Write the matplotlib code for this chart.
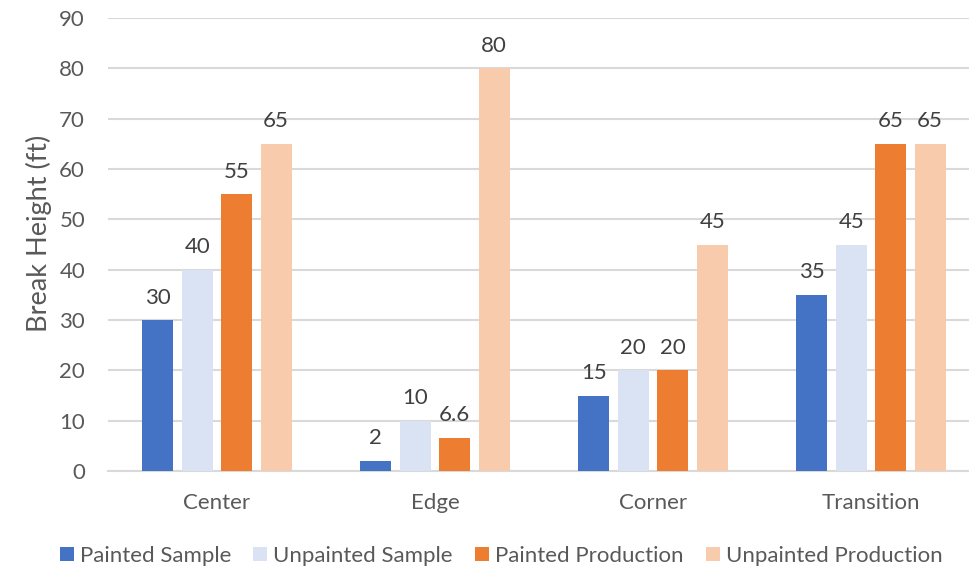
import matplotlib
matplotlib.use("Agg")
import matplotlib.pyplot as plt
import numpy as np

plt.rcParams['font.family'] = ['Lato', 'DejaVu Sans']

categories = ["Center", "Edge", "Corner", "Transition"]
series_names = ["Painted Sample", "Unpainted Sample", "Painted Production", "Unpainted Production"]
painted_sample = [30, 2, 15, 35]
unpainted_sample = [40, 10, 20, 45]
painted_production = [55, 6.6, 20, 65]
unpainted_production = [65, 80, 45, 65]
series_values = [painted_sample, unpainted_sample, painted_production, unpainted_production]
colors = ["#4472C4", "#DAE3F3", "#ED7D31", "#F8CBAD"]

text_color = "#595959"
grid_color = "#D9D9D9"

W, H = 969, 569
fig = plt.figure(figsize=(W / 100, H / 100), dpi=100)
left, right = 108, 980
bottom, top = 471, 18
ax = fig.add_axes([left / W, 1 - bottom / H, (right - left) / W, (bottom - top) / H])

x = np.arange(len(categories))
step = 0.181
width = 0.142
offsets = (np.arange(4) - 1.5) * step

for vals, name, col, off in zip(series_values, series_names, colors, offsets):
    bars = ax.bar(x + off, vals, width, color=col, label=name, zorder=3)
    for b, v in zip(bars, vals):
        lab = f"{v:g}"
        ax.annotate(lab, (b.get_x() + b.get_width() / 2, v), xytext=(0, 9),
                    textcoords="offset points", ha="center", va="bottom",
                    fontsize=16, color="#404040")

ax.set_xlim(-0.5, len(categories) - 0.5)
ax.set_ylim(0, 90)
ax.set_yticks(np.arange(0, 91, 10))
ax.yaxis.grid(True, color=grid_color, linewidth=1.5, zorder=0)
ax.set_axisbelow(True)
for s in ["top", "right", "left"]:
    ax.spines[s].set_visible(False)
ax.spines["bottom"].set_color(grid_color)
ax.spines["bottom"].set_linewidth(1.5)
ax.set_xticks(x)
ax.set_xticklabels(categories)
ax.tick_params(axis="both", length=0, labelsize=16, colors=text_color)
ax.tick_params(axis="y", pad=16.5)
ax.tick_params(axis="x", pad=16)
ax.set_ylabel("Break Height (ft)", fontsize=19.5, color=text_color)
ax.yaxis.set_label_coords(-0.064, 0.525)

fig.legend(loc="center", bbox_to_anchor=(0.517, 1 - 556 / H), ncol=4, frameon=False,
           fontsize=16, labelcolor=text_color, handlelength=0.63, handleheight=0.63,
           handletextpad=0.27, columnspacing=1.0)

fig.savefig("out.png", dpi=100)
